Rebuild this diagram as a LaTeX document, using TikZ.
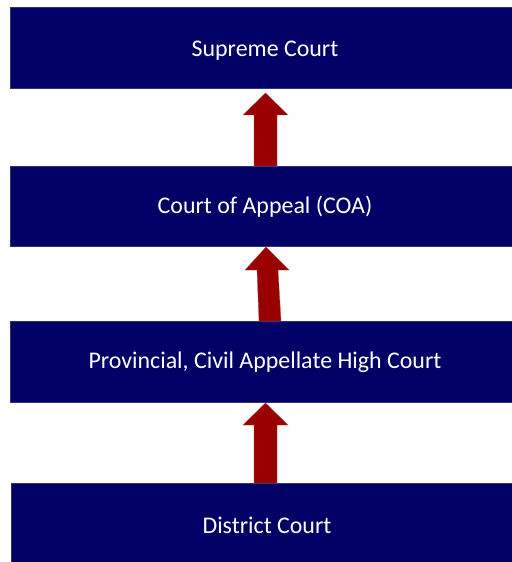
\documentclass[tikz,border=0pt]{standalone}
\usepackage{fontspec}
\setmainfont{Carlito}
\definecolor{navy}{HTML}{000066}
\definecolor{darkred}{HTML}{990000}
\begin{document}
\begin{tikzpicture}[x=1bp,y=-1bp,
  court/.style={fill=navy,draw=navy!60!gray,line width=0.4bp},
  courttext/.style={text=white,anchor=base,inner sep=0pt,font=\fontsize{24}{28}\selectfont},
  uparrow/.style={fill=darkred,draw=darkred!70!white,line width=0.3bp}]
\useasboundingbox[fill=white] (0,0) rectangle (512,562);
\path[court] (10,7) rectangle (512,88);
\node[courttext] (sc) at (265,56.7) {Supreme Court};
\path[court] (10,166) rectangle (512,246);
\node[courttext] (coa) at (265,214) {Court of Appeal (COA)};
\path[court] (10,321) rectangle (512,402);
\node[courttext] (hc) at (265,368) {Provincial, Civil Appellate High Court};
\path[court] (11,483) rectangle (512,562);
\node[courttext] (dc) at (267,533.3) {District Court};
\draw[uparrow] (254,166) -- (254,115) -- (243,115) -- (265.5,93) -- (288,115) -- (277,115) -- (277,166) -- cycle;
\draw[uparrow] (259,321) -- (257,270) -- (245,270) -- (266,247) -- (289,270) -- (278,270) -- (281,321) -- cycle;
\draw[uparrow] (254,483) -- (254,425) -- (243,425) -- (265.5,403) -- (288,425) -- (277,425) -- (277,483) -- cycle;
\end{tikzpicture}
\end{document}
